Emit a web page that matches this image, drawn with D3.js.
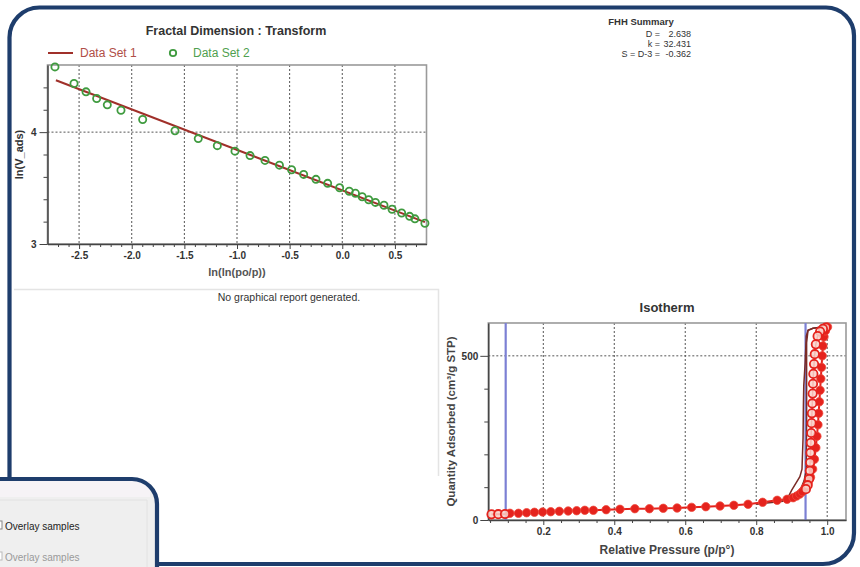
<!DOCTYPE html>
<html>
<head>
<meta charset="utf-8">
<script src="https://cdn.jsdelivr.net/npm/d3@7"></script>
<style>
  html, body { margin: 0; padding: 0; background: #fff; }
  svg { display: block; font-family: "Liberation Sans", Arial, sans-serif; }
</style>
</head>
<body>
<svg id="chart" width="860" height="567"></svg>
<script>
// ---- FHH fractal transform: ln(V_ads) vs ln(ln(po/p)) ----
const fitX = [-2.72, 0.785];            // Data Set 1: fitted line end points
const fitY = [4.464, 3.195];
const fhhX = [-2.729, -2.548, -2.434, -2.333, -2.232, -2.102, -1.896, -1.589, -1.368, -1.187,
              -1.019, -0.876, -0.734, -0.597, -0.481, -0.367, -0.250, -0.139, -0.025, 0.066,
              0.125, 0.189, 0.251, 0.315, 0.396, 0.473, 0.564, 0.640, 0.690, 0.785];
const fhhY = [4.583, 4.435, 4.360, 4.301, 4.244, 4.196, 4.113, 4.012, 3.942, 3.879,
              3.830, 3.790, 3.747, 3.705, 3.664, 3.622, 3.578, 3.542, 3.503, 3.471,
              3.453, 3.422, 3.396, 3.372, 3.346, 3.311, 3.277, 3.247, 3.225, 3.185];
const fracXTicks = [-2.5, -2.0, -1.5, -1.0, -0.5, 0.0, 0.5];
const fracYTicks = [3, 4];
const fracYMinor = [3.2, 3.4, 3.6, 3.8, 4.2, 4.4];

// FHH summary block
const summaryLabels = ["D =", "k =", "S = D-3 ="];
const summaryValues = ["2.638", "32.431", "-0.362"];

// ---- Isotherm: quantity adsorbed vs relative pressure ----
const startP = [0.054, 0.073, 0.092];   // first (open) points
const startQ = [17.4, 17.6, 18.2];
const adsP = [0.106, 0.130, 0.153, 0.175, 0.198, 0.221, 0.245, 0.270, 0.294, 0.317,
              0.341, 0.377, 0.416, 0.458, 0.499, 0.538, 0.577, 0.618, 0.658, 0.698,
              0.737, 0.777, 0.818, 0.859, 0.887, 0.904, 0.914, 0.923, 0.930, 0.938,
              0.946, 0.953, 0.959, 0.964, 0.968, 0.971, 0.974, 0.976, 0.978, 0.980,
              0.982, 0.984, 0.986, 0.988, 0.991, 0.995, 1.001];
const adsQ = [20.4, 20.4, 22.2, 23.5, 24.4, 25.3, 26.5, 27.4, 28.3, 29.5,
              29.5, 31.4, 32.6, 34.4, 34.4, 35.6, 36.5, 38.6, 40.5, 42.6,
              44.7, 47.8, 53.9, 60.0, 63.0, 67.9, 73.1, 79.2, 86.3, 98,
              112, 130, 155, 185, 220, 255, 290, 325, 360, 395,
              430, 465, 500, 530, 558, 576, 588];
const desP = [0.996, 0.988, 0.980, 0.973, 0.968, 0.965, 0.963, 0.961, 0.960, 0.959,
              0.958, 0.957, 0.956, 0.955, 0.954, 0.953, 0.952, 0.951, 0.949, 0.945, 0.940];
const desQ = [586, 582, 574, 560, 535, 505, 475, 445, 415, 385,
              355, 325, 295, 265, 235, 205, 175, 150, 125, 106, 94];
// overlay sample (adsorption and desorption branches)
const ovAdsP = [0.80, 0.85, 0.875, 0.89, 0.90, 0.912, 0.923, 0.929, 0.932, 0.933,
                0.934, 0.938, 0.941, 0.946, 0.96, 0.98, 0.998];
const ovAdsQ = [48, 54, 57, 70, 91, 112, 132, 155, 250, 350,
                410, 480, 560, 578, 584, 587, 589];
const ovDesP = [0.998, 0.96, 0.946, 0.942, 0.942, 0.941, 0.935, 0.928, 0.915, 0.903, 0.88, 0.85];
const ovDesQ = [589, 584, 578, 540, 300, 152, 120, 101, 82, 67, 60, 55];
const markerP = [0.094, 0.939];          // selected pressure range
const isoXTicks = [0.2, 0.4, 0.6, 0.8, 1.0];
const isoYTicks = [0, 500];
const isoYMinor = [100, 200, 300, 400];

const NAVY = "#1e3d6c";
const RED = "#e5231d";
const BROWN = "#a0302a";
const GREEN = "#3f9b3f";
const OVERLAY = "#7a2b26";

const svg = d3.select("#chart");

// ---------- page furniture ----------
svg.append("rect").attr("width", 860).attr("height", 567).attr("fill", "#fff");

// faint panel that holds the empty report
svg.append("path")
  .attr("d", "M14,289.5 H438.5 V476")
  .attr("fill", "none").attr("stroke", "#e4e4e4").attr("stroke-width", 1.5);
svg.append("text").attr("x", 289).attr("y", 301).attr("text-anchor", "middle")
  .attr("font-size", 10.5).attr("fill", "#333").text("No graphical report generated.");

// main rounded frame
svg.append("path")
  .attr("d", "M9.5,480 V38 A30,30 0 0 1 39.5,7.5 H826 A28,28 0 0 1 854,35.5 V533 A31,31 0 0 1 823,564 H150")
  .attr("fill", "none").attr("stroke", NAVY).attr("stroke-width", 4.2);

// ---------- fractal transform plot ----------
const fx = d3.scaleLinear().domain([-2.8, 0.8]).range([47.5, 426.5]);
const fy = d3.scaleLinear().domain([3, 4.6]).range([244, 65]);
const fracMinorX = d3.range(-27, 8).map(i => i / 10).filter(v => !fracXTicks.some(t => Math.abs(t - v) < 1e-6));

const fg = svg.append("g");
// grid
fg.selectAll("line.vg").data(fracXTicks).join("line")
  .attr("x1", d => fx(d)).attr("x2", d => fx(d))
  .attr("y1", fy.range()[1]).attr("y2", fy.range()[0])
  .attr("stroke", "#555").attr("stroke-width", 1).attr("stroke-dasharray", "2,2");
fg.append("line")
  .attr("x1", fx.range()[0]).attr("x2", fx.range()[1])
  .attr("y1", fy(4)).attr("y2", fy(4))
  .attr("stroke", "#555").attr("stroke-width", 1).attr("stroke-dasharray", "2,2");
// frame
fg.append("rect")
  .attr("x", fx.range()[0]).attr("y", fy.range()[1])
  .attr("width", fx.range()[1] - fx.range()[0]).attr("height", fy.range()[0] - fy.range()[1])
  .attr("fill", "none").attr("stroke", "#9a9a9a").attr("stroke-width", 1.6);

function styleAxis(g) {
  g.select(".domain").attr("stroke", "#444").attr("stroke-width", 1.5);
  g.selectAll(".tick line").attr("stroke", "#444").attr("stroke-width", 1);
  g.selectAll(".tick text").attr("font-family", "Liberation Sans, Arial, sans-serif")
    .attr("font-size", 10).attr("font-weight", "bold").attr("fill", "#333");
}
const fxAxis = fg.append("g").attr("transform", `translate(0,${fy(3)})`)
  .call(d3.axisBottom(fx).tickValues(fracXTicks).tickFormat(d => d.toFixed(1)).tickSize(5).tickPadding(3).tickSizeOuter(0));
styleAxis(fxAxis);
const fxMinor = fg.append("g").attr("transform", `translate(0,${fy(3)})`)
  .call(d3.axisBottom(fx).tickValues(fracMinorX).tickFormat("").tickSize(3).tickSizeOuter(0));
fxMinor.select(".domain").remove();
fxMinor.selectAll(".tick line").attr("stroke", "#444");

const fyAxis = fg.append("g").attr("transform", `translate(${fx(-2.8)},0)`)
  .call(d3.axisLeft(fy).tickValues(fracYTicks).tickFormat(d3.format("d")).tickSize(8).tickPadding(3).tickSizeOuter(0));
styleAxis(fyAxis);
const fyMinor = fg.append("g").attr("transform", `translate(${fx(-2.8)},0)`)
  .call(d3.axisLeft(fy).tickValues(fracYMinor).tickFormat("").tickSize(4).tickSizeOuter(0));
fyMinor.select(".domain").remove();
fyMinor.selectAll(".tick line").attr("stroke", "#444");

// fitted line
fg.append("path")
  .datum(d3.zip(fitX, fitY))
  .attr("d", d3.line().x(d => fx(d[0])).y(d => fy(d[1])))
  .attr("fill", "none").attr("stroke", BROWN).attr("stroke-width", 2);
// measured points
fg.selectAll("circle.pt").data(d3.zip(fhhX, fhhY)).join("circle")
  .attr("cx", d => fx(d[0])).attr("cy", d => fy(d[1])).attr("r", 3.6)
  .attr("fill", "none").attr("stroke", GREEN).attr("stroke-width", 1.8);

// titles
svg.append("text").attr("x", 236).attr("y", 35).attr("text-anchor", "middle")
  .attr("font-size", 12.5).attr("font-weight", "bold").attr("fill", "#333")
  .text("Fractal Dimension : Transform");
svg.append("text").attr("x", fx(-1.0)).attr("y", 276).attr("text-anchor", "middle")
  .attr("font-size", 11).attr("font-weight", "bold").attr("fill", "#555")
  .text("ln(ln(po/p))");
svg.append("text").attr("transform", `translate(23,${(fy.range()[0] + fy.range()[1]) / 2}) rotate(-90)`)
  .attr("text-anchor", "middle").attr("font-size", 11).attr("font-weight", "bold").attr("fill", "#333")
  .text("ln(V_ads)");

// legend
const lg = svg.append("g");
lg.append("line").attr("x1", 48).attr("x2", 73).attr("y1", 53).attr("y2", 53)
  .attr("stroke", BROWN).attr("stroke-width", 2);
lg.append("text").attr("x", 80).attr("y", 57).attr("font-size", 12).attr("fill", "#b04e47").text("Data Set 1");
lg.append("circle").attr("cx", 173).attr("cy", 53).attr("r", 3.2)
  .attr("fill", "none").attr("stroke", GREEN).attr("stroke-width", 1.8);
lg.append("text").attr("x", 193).attr("y", 57).attr("font-size", 12).attr("fill", "#4f9f4f").text("Data Set 2");

// FHH summary
svg.append("text").attr("x", 641).attr("y", 25).attr("text-anchor", "middle")
  .attr("font-size", 9.5).attr("font-weight", "bold").attr("fill", "#333").text("FHH Summary");
summaryLabels.forEach((lab, i) => {
  const y = 37 + i * 10;
  svg.append("text").attr("x", 660).attr("y", y).attr("text-anchor", "end")
    .attr("font-size", 9).attr("fill", "#333").text(lab);
  svg.append("text").attr("x", 691).attr("y", y).attr("text-anchor", "end")
    .attr("font-size", 9).attr("fill", "#333").text(summaryValues[i]);
});

// ---------- isotherm plot ----------
const ix = d3.scaleLinear().domain([0.045, 1.053]).range([488.3, 846]);
const iy = d3.scaleLinear().domain([0, 600]).range([520, 323]);
const isoXMinor = d3.range(1, 21).map(i => i * 0.05).filter(v => !isoXTicks.some(t => Math.abs(t - v) < 1e-6));

const ig = svg.append("g");
ig.selectAll("line.vg").data(isoXTicks).join("line")
  .attr("x1", d => ix(d)).attr("x2", d => ix(d))
  .attr("y1", iy.range()[1]).attr("y2", iy.range()[0])
  .attr("stroke", "#555").attr("stroke-width", 1).attr("stroke-dasharray", "2,2");
ig.append("line")
  .attr("x1", ix.range()[0]).attr("x2", ix.range()[1])
  .attr("y1", iy(500)).attr("y2", iy(500))
  .attr("stroke", "#555").attr("stroke-width", 1).attr("stroke-dasharray", "2,2");
ig.append("rect")
  .attr("x", ix.range()[0]).attr("y", iy.range()[1])
  .attr("width", ix.range()[1] - ix.range()[0]).attr("height", iy.range()[0] - iy.range()[1])
  .attr("fill", "none").attr("stroke", "#9a9a9a").attr("stroke-width", 1.6);

// pressure range markers
ig.selectAll("line.mk").data(markerP).join("line")
  .attr("x1", d => ix(d)).attr("x2", d => ix(d))
  .attr("y1", iy.range()[1]).attr("y2", iy.range()[0])
  .attr("stroke", "#7c80d4").attr("stroke-width", 2.2);

const ixAxis = ig.append("g").attr("transform", `translate(0,${iy(0)})`)
  .call(d3.axisBottom(ix).tickValues(isoXTicks).tickFormat(d => d.toFixed(1)).tickSize(5).tickPadding(3).tickSizeOuter(0));
styleAxis(ixAxis);
const ixMinor = ig.append("g").attr("transform", `translate(0,${iy(0)})`)
  .call(d3.axisBottom(ix).tickValues(isoXMinor).tickFormat("").tickSize(3).tickSizeOuter(0));
ixMinor.select(".domain").remove();
ixMinor.selectAll(".tick line").attr("stroke", "#444");

const iyAxis = ig.append("g").attr("transform", `translate(${ix.range()[0]},0)`)
  .call(d3.axisLeft(iy).tickValues(isoYTicks).tickFormat(d3.format("d")).tickSize(8).tickPadding(2).tickSizeOuter(0));
styleAxis(iyAxis);
const iyMinor = ig.append("g").attr("transform", `translate(${ix.range()[0]},0)`)
  .call(d3.axisLeft(iy).tickValues(isoYMinor).tickFormat("").tickSize(4).tickSizeOuter(0));
iyMinor.select(".domain").remove();
iyMinor.selectAll(".tick line").attr("stroke", "#444");

const iline = d3.line().x(d => ix(d[0])).y(d => iy(d[1]));
const adsPts = d3.zip(adsP, adsQ);
const desPts = d3.zip(desP, desQ);
const startPts = d3.zip(startP, startQ);

// overlay sample
ig.append("path").datum(d3.zip(ovAdsP, ovAdsQ)).attr("d", iline)
  .attr("fill", "none").attr("stroke", OVERLAY).attr("stroke-width", 1.5);
ig.append("path").datum(d3.zip(ovDesP, ovDesQ)).attr("d", iline)
  .attr("fill", "none").attr("stroke", OVERLAY).attr("stroke-width", 1.5);

// sample: connecting lines
ig.append("path").datum(startPts.concat(adsPts)).attr("d", iline)
  .attr("fill", "none").attr("stroke", RED).attr("stroke-width", 2);
ig.append("path").datum(desPts).attr("d", iline)
  .attr("fill", "none").attr("stroke", RED).attr("stroke-width", 1.5);
// filled adsorption points
ig.selectAll("circle.ap").data(adsPts).join("circle")
  .attr("cx", d => ix(d[0])).attr("cy", d => iy(d[1])).attr("r", 4.2)
  .attr("fill", RED).attr("stroke", "#ef4a3e").attr("stroke-width", 0.8);
// open points
ig.selectAll("circle.op").data(startPts.concat(desPts)).join("circle")
  .attr("cx", d => ix(d[0])).attr("cy", d => iy(d[1])).attr("r", 4.2)
  .attr("fill", "#f9d2ca").attr("fill-opacity", 0.85).attr("stroke", RED).attr("stroke-width", 1.8);

svg.append("text").attr("x", 667).attr("y", 312).attr("text-anchor", "middle")
  .attr("font-size", 13).attr("font-weight", "bold").attr("fill", "#333").text("Isotherm");
svg.append("text").attr("x", 667).attr("y", 554).attr("text-anchor", "middle")
  .attr("font-size", 12).attr("font-weight", "bold").attr("fill", "#444").text("Relative Pressure (p/p°)");
svg.append("text").attr("transform", `translate(455,${(iy.range()[0] + iy.range()[1]) / 2}) rotate(-90)`)
  .attr("text-anchor", "middle").attr("font-size", 11.5).attr("font-weight", "bold").attr("fill", "#444")
  .text("Quantity Adsorbed (cm³/g STP)");

// ---------- options panel (bottom left) ----------
const op = svg.append("g");
op.append("path")
  .attr("d", "M-5,479 H132 A25,25 0 0 1 157,504 V572 H-5 Z")
  .attr("fill", "#efefef").attr("stroke", "none");
op.append("rect").attr("x", 0).attr("y", 481).attr("width", 150).attr("height", 16).attr("fill", "#f6f3f6");
op.append("path").attr("d", "M0,500 H147 V567").attr("fill", "none").attr("stroke", "#e2e2e2").attr("stroke-width", 1);
op.append("rect").attr("x", -6).attr("y", 521).attr("width", 8).attr("height", 8)
  .attr("fill", "#fff").attr("stroke", "#888").attr("stroke-width", 1);
op.append("text").attr("x", 5).attr("y", 529.5).attr("font-size", 10).attr("fill", "#222").text("Overlay samples");
op.append("rect").attr("x", -6).attr("y", 552).attr("width", 8).attr("height", 8)
  .attr("fill", "#fff").attr("stroke", "#bbb").attr("stroke-width", 1);
op.append("text").attr("x", 5).attr("y", 560.5).attr("font-size", 10).attr("fill", "#9a9a9a").text("Overlay samples");
op.append("path")
  .attr("d", "M-5,479 H132 A25,25 0 0 1 157,504 V572")
  .attr("fill", "none").attr("stroke", NAVY).attr("stroke-width", 4.2);
</script>
</body>
</html>
